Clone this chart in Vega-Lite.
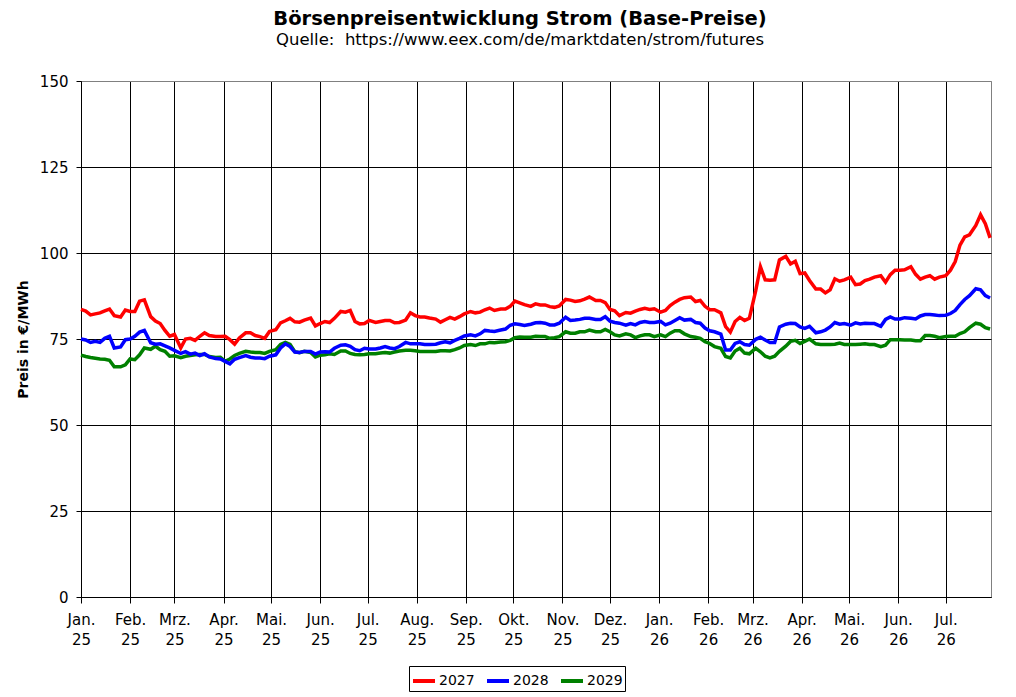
{
  "$schema": "https://vega.github.io/schema/vega-lite/v6.json",
  "width": 910,
  "height": 516,
  "autosize": {"type": "none"},
  "padding": {"left": 81, "top": 81, "right": 25, "bottom": 100},
  "background": "white",
  "config": {
    "font": "DejaVu Sans",
    "view": {"stroke": "#808080", "strokeWidth": 1}
  },
  "title": {
    "text": "Börsenpreisentwicklung Strom (Base-Preise)",
    "subtitle": "Quelle:\u00a0 https://www.eex.com/de/marktdaten/strom/futures",
    "fontSize": 19.5,
    "fontWeight": "bold",
    "subtitleFontSize": 16.5,
    "subtitlePadding": 2,
    "color": "black",
    "subtitleColor": "black",
    "anchor": "middle",
    "dx": -16,
    "offset": 25
  },
  "data": {
    "values": [
      {"d": "2025-01-01", "2027": 83.6, "2028": 75, "2029": 70.3},
      {"d": "2025-01-04", "2027": 83.1, "2028": 74.7, "2029": 69.9},
      {"d": "2025-01-07", "2027": 82, "2028": 74, "2029": 69.6},
      {"d": "2025-01-10", "2027": 82.3, "2028": 74.3, "2029": 69.4},
      {"d": "2025-01-13", "2027": 82.6, "2028": 74, "2029": 69.2},
      {"d": "2025-01-16", "2027": 83.2, "2028": 75.2, "2029": 69.1},
      {"d": "2025-01-19", "2027": 83.7, "2028": 75.8, "2029": 68.8},
      {"d": "2025-01-22", "2027": 81.8, "2028": 72.4, "2029": 66.9},
      {"d": "2025-01-26", "2027": 81.4, "2028": 72.7, "2029": 66.9},
      {"d": "2025-01-29", "2027": 83.4, "2028": 74.8, "2029": 67.5},
      {"d": "2025-02-01", "2027": 83, "2028": 75, "2029": 69.2},
      {"d": "2025-02-04", "2027": 83, "2028": 75.8, "2029": 69},
      {"d": "2025-02-07", "2027": 86, "2028": 77, "2029": 70.4},
      {"d": "2025-02-10", "2027": 86.4, "2028": 77.5, "2029": 72.4},
      {"d": "2025-02-14", "2027": 81.5, "2028": 73.9, "2029": 72},
      {"d": "2025-02-17", "2027": 80.2, "2028": 73.5, "2029": 72.9},
      {"d": "2025-02-20", "2027": 79.5, "2028": 73.6, "2029": 71.9},
      {"d": "2025-02-23", "2027": 77.5, "2028": 73, "2029": 71.4},
      {"d": "2025-02-26", "2027": 75.8, "2028": 72.4, "2029": 70},
      {"d": "2025-03-01", "2027": 76.3, "2028": 71.7, "2029": 70.1},
      {"d": "2025-03-05", "2027": 72.4, "2028": 70.8, "2029": 69.6},
      {"d": "2025-03-08", "2027": 75, "2028": 71.3, "2029": 70},
      {"d": "2025-03-11", "2027": 75.2, "2028": 70.6, "2029": 70.2},
      {"d": "2025-03-14", "2027": 74.6, "2028": 70.9, "2029": 70.4},
      {"d": "2025-03-17", "2027": 75.8, "2028": 70.2, "2029": 70.5},
      {"d": "2025-03-20", "2027": 76.8, "2028": 70.7, "2029": 70.5},
      {"d": "2025-03-23", "2027": 76, "2028": 69.8, "2029": 69.9},
      {"d": "2025-03-27", "2027": 75.7, "2028": 69.3, "2029": 69.6},
      {"d": "2025-03-30", "2027": 75.7, "2028": 69.2, "2029": 69.7},
      {"d": "2025-04-02", "2027": 75.8, "2028": 68.5, "2029": 68.5},
      {"d": "2025-04-05", "2027": 74.8, "2028": 67.8, "2029": 69.2},
      {"d": "2025-04-08", "2027": 73.5, "2028": 69.1, "2029": 70.2},
      {"d": "2025-04-11", "2027": 75.3, "2028": 69.6, "2029": 70.8},
      {"d": "2025-04-15", "2027": 76.8, "2028": 70.2, "2029": 71.4},
      {"d": "2025-04-18", "2027": 76.8, "2028": 69.7, "2029": 71.2},
      {"d": "2025-04-21", "2027": 76, "2028": 69.5, "2029": 71.1},
      {"d": "2025-04-24", "2027": 75.7, "2028": 69.5, "2029": 71.1},
      {"d": "2025-04-27", "2027": 75.2, "2028": 69.3, "2029": 70.8},
      {"d": "2025-04-30", "2027": 77.2, "2028": 70, "2029": 71.4},
      {"d": "2025-05-04", "2027": 77.7, "2028": 70.4, "2029": 71.9},
      {"d": "2025-05-07", "2027": 79.7, "2028": 72.4, "2029": 73.4},
      {"d": "2025-05-10", "2027": 80.3, "2028": 73.6, "2029": 74},
      {"d": "2025-05-13", "2027": 81, "2028": 72.8, "2029": 73.4},
      {"d": "2025-05-16", "2027": 80, "2028": 71.2, "2029": 71.3},
      {"d": "2025-05-19", "2027": 79.9, "2028": 71.1, "2029": 71},
      {"d": "2025-05-22", "2027": 80.5, "2028": 71.4, "2029": 71.4},
      {"d": "2025-05-26", "2027": 81.1, "2028": 71.4, "2029": 71.1},
      {"d": "2025-05-29", "2027": 78.8, "2028": 70.6, "2029": 69.8},
      {"d": "2025-06-01", "2027": 79.5, "2028": 71.2, "2029": 70.3},
      {"d": "2025-06-04", "2027": 80.1, "2028": 71.3, "2029": 70.4},
      {"d": "2025-06-07", "2027": 79.8, "2028": 71.2, "2029": 70.7},
      {"d": "2025-06-10", "2027": 81, "2028": 72.3, "2029": 70.5},
      {"d": "2025-06-14", "2027": 83, "2028": 73.2, "2029": 71.5},
      {"d": "2025-06-17", "2027": 82.8, "2028": 73.3, "2029": 71.5},
      {"d": "2025-06-20", "2027": 83.3, "2028": 72.9, "2029": 70.8},
      {"d": "2025-06-23", "2027": 80.1, "2028": 71.9, "2029": 70.5},
      {"d": "2025-06-26", "2027": 79.4, "2028": 71.6, "2029": 70.4},
      {"d": "2025-06-29", "2027": 79.5, "2028": 72.3, "2029": 70.5},
      {"d": "2025-07-02", "2027": 80.4, "2028": 72.1, "2029": 70.7},
      {"d": "2025-07-06", "2027": 79.8, "2028": 72.1, "2029": 70.7},
      {"d": "2025-07-09", "2027": 80.1, "2028": 72.4, "2029": 70.9},
      {"d": "2025-07-12", "2027": 80.4, "2028": 72.8, "2029": 71.1},
      {"d": "2025-07-15", "2027": 80.4, "2028": 72.4, "2029": 70.9},
      {"d": "2025-07-18", "2027": 79.7, "2028": 72.2, "2029": 71.2},
      {"d": "2025-07-21", "2027": 79.8, "2028": 72.8, "2029": 71.5},
      {"d": "2025-07-25", "2027": 80.5, "2028": 74, "2029": 71.7},
      {"d": "2025-07-28", "2027": 82.6, "2028": 73.6, "2029": 71.7},
      {"d": "2025-07-31", "2027": 81.8, "2028": 73.6, "2029": 71.6},
      {"d": "2025-08-03", "2027": 81.4, "2028": 73.6, "2029": 71.4},
      {"d": "2025-08-06", "2027": 81.4, "2028": 73.4, "2029": 71.4},
      {"d": "2025-08-09", "2027": 81.1, "2028": 73.4, "2029": 71.4},
      {"d": "2025-08-13", "2027": 80.8, "2028": 73.5, "2029": 71.4},
      {"d": "2025-08-16", "2027": 79.9, "2028": 73.9, "2029": 71.6},
      {"d": "2025-08-19", "2027": 80.6, "2028": 74.2, "2029": 71.6},
      {"d": "2025-08-22", "2027": 81.3, "2028": 73.9, "2029": 71.5},
      {"d": "2025-08-25", "2027": 80.8, "2028": 74.6, "2029": 71.9},
      {"d": "2025-08-28", "2027": 81.5, "2028": 75.2, "2029": 72.4},
      {"d": "2025-08-31", "2027": 82.3, "2028": 75.9, "2029": 73.1},
      {"d": "2025-09-04", "2027": 83, "2028": 76.2, "2029": 73.4},
      {"d": "2025-09-07", "2027": 82.6, "2028": 75.9, "2029": 73.1},
      {"d": "2025-09-10", "2027": 82.8, "2028": 76.5, "2029": 73.6},
      {"d": "2025-09-13", "2027": 83.5, "2028": 77.5, "2029": 73.6},
      {"d": "2025-09-16", "2027": 84, "2028": 77.3, "2029": 74},
      {"d": "2025-09-19", "2027": 83.3, "2028": 77.2, "2029": 73.9},
      {"d": "2025-09-23", "2027": 83.7, "2028": 77.6, "2029": 74.1},
      {"d": "2025-09-26", "2027": 83.7, "2028": 77.9, "2029": 74.2},
      {"d": "2025-09-29", "2027": 84.5, "2028": 79, "2029": 74.6},
      {"d": "2025-10-02", "2027": 86, "2028": 79.4, "2029": 75.4},
      {"d": "2025-10-05", "2027": 85.5, "2028": 79.2, "2029": 75.6},
      {"d": "2025-10-08", "2027": 85, "2028": 78.9, "2029": 75.5},
      {"d": "2025-10-12", "2027": 84.5, "2028": 79.3, "2029": 75.5},
      {"d": "2025-10-15", "2027": 85.2, "2028": 79.7, "2029": 75.8},
      {"d": "2025-10-18", "2027": 84.9, "2028": 79.8, "2029": 75.7},
      {"d": "2025-10-21", "2027": 84.9, "2028": 79.6, "2029": 75.7},
      {"d": "2025-10-24", "2027": 84.4, "2028": 79.1, "2029": 75.2},
      {"d": "2025-10-27", "2027": 84.2, "2028": 79.1, "2029": 75.4},
      {"d": "2025-10-30", "2027": 84.6, "2028": 79.6, "2029": 75.7},
      {"d": "2025-11-03", "2027": 86.5, "2028": 81.3, "2029": 77.1},
      {"d": "2025-11-06", "2027": 86.3, "2028": 80.4, "2029": 76.7},
      {"d": "2025-11-09", "2027": 85.9, "2028": 80.5, "2029": 76.7},
      {"d": "2025-11-12", "2027": 86.1, "2028": 80.7, "2029": 77.1},
      {"d": "2025-11-15", "2027": 86.6, "2028": 81, "2029": 77.1},
      {"d": "2025-11-18", "2027": 87.2, "2028": 81, "2029": 77.6},
      {"d": "2025-11-22", "2027": 86.2, "2028": 80.7, "2029": 77.1},
      {"d": "2025-11-25", "2027": 86.2, "2028": 80.7, "2029": 77.1},
      {"d": "2025-11-28", "2027": 85.6, "2028": 81.5, "2029": 77.8},
      {"d": "2025-12-01", "2027": 83.6, "2028": 80.2, "2029": 77.1},
      {"d": "2025-12-04", "2027": 83.2, "2028": 79.8, "2029": 76.2},
      {"d": "2025-12-07", "2027": 81.8, "2028": 79.6, "2029": 75.9},
      {"d": "2025-12-11", "2027": 82.7, "2028": 79, "2029": 76.5},
      {"d": "2025-12-14", "2027": 82.5, "2028": 79.5, "2029": 76.2},
      {"d": "2025-12-17", "2027": 83.1, "2028": 79.1, "2029": 75.4},
      {"d": "2025-12-20", "2027": 83.6, "2028": 79.8, "2029": 75.9},
      {"d": "2025-12-23", "2027": 83.9, "2028": 80.1, "2029": 76.2},
      {"d": "2025-12-26", "2027": 83.6, "2028": 79.8, "2029": 76.2},
      {"d": "2025-12-29", "2027": 83.8, "2028": 79.8, "2029": 75.7},
      {"d": "2026-01-02", "2027": 82.8, "2028": 80.1, "2029": 76.2},
      {"d": "2026-01-05", "2027": 83.3, "2028": 79.1, "2029": 75.7},
      {"d": "2026-01-08", "2027": 84.7, "2028": 79.6, "2029": 76.7},
      {"d": "2026-01-11", "2027": 85.7, "2028": 80.4, "2029": 77.4},
      {"d": "2026-01-14", "2027": 86.5, "2028": 81.2, "2029": 77.4},
      {"d": "2026-01-17", "2027": 87, "2028": 80.5, "2029": 76.5},
      {"d": "2026-01-21", "2027": 87.2, "2028": 80.7, "2029": 75.7},
      {"d": "2026-01-24", "2027": 85.9, "2028": 79.8, "2029": 75.5},
      {"d": "2026-01-27", "2027": 86.2, "2028": 79.6, "2029": 75.2},
      {"d": "2026-01-30", "2027": 84.5, "2028": 78.2, "2029": 74.2},
      {"d": "2026-02-02", "2027": 83.5, "2028": 77.4, "2029": 73.7},
      {"d": "2026-02-05", "2027": 83.5, "2028": 77.1, "2029": 72.8},
      {"d": "2026-02-09", "2027": 82.6, "2028": 76.4, "2029": 72.3},
      {"d": "2026-02-12", "2027": 78.6, "2028": 71.8, "2029": 69.9},
      {"d": "2026-02-15", "2027": 77, "2028": 71.8, "2029": 69.5},
      {"d": "2026-02-18", "2027": 80.1, "2028": 73.7, "2029": 71.5},
      {"d": "2026-02-21", "2027": 81.3, "2028": 74.2, "2029": 72.3},
      {"d": "2026-02-24", "2027": 80.4, "2028": 73.4, "2029": 70.9},
      {"d": "2026-02-27", "2027": 81, "2028": 73.2, "2029": 70.7},
      {"d": "2026-03-03", "2027": 89, "2028": 74.9, "2029": 72.3},
      {"d": "2026-03-06", "2027": 96, "2028": 75.5, "2029": 71.3},
      {"d": "2026-03-09", "2027": 92.2, "2028": 74.7, "2029": 70},
      {"d": "2026-03-12", "2027": 92.1, "2028": 74, "2029": 69.5},
      {"d": "2026-03-15", "2027": 92.2, "2028": 74, "2029": 70},
      {"d": "2026-03-18", "2027": 98, "2028": 78.5, "2029": 71.4},
      {"d": "2026-03-22", "2027": 99, "2028": 79.3, "2029": 72.9},
      {"d": "2026-03-25", "2027": 96.8, "2028": 79.6, "2029": 74.3},
      {"d": "2026-03-28", "2027": 97.6, "2028": 79.5, "2029": 74.6},
      {"d": "2026-03-31", "2027": 94, "2028": 78.5, "2029": 73.7},
      {"d": "2026-04-03", "2027": 94.2, "2028": 78.1, "2029": 74.3},
      {"d": "2026-04-06", "2027": 92, "2028": 78.7, "2029": 75},
      {"d": "2026-04-10", "2027": 89.5, "2028": 76.8, "2029": 73.6},
      {"d": "2026-04-13", "2027": 89.5, "2028": 77.1, "2029": 73.4},
      {"d": "2026-04-16", "2027": 88.4, "2028": 77.6, "2029": 73.4},
      {"d": "2026-04-19", "2027": 89.3, "2028": 78.5, "2029": 73.4},
      {"d": "2026-04-22", "2027": 92.5, "2028": 79.8, "2029": 73.5},
      {"d": "2026-04-25", "2027": 91.8, "2028": 79.3, "2029": 73.8},
      {"d": "2026-04-28", "2027": 92.2, "2028": 79.5, "2029": 73.4},
      {"d": "2026-05-02", "2027": 93, "2028": 79, "2029": 73.4},
      {"d": "2026-05-05", "2027": 90.8, "2028": 79.7, "2029": 73.4},
      {"d": "2026-05-08", "2027": 91, "2028": 79.4, "2029": 73.5},
      {"d": "2026-05-11", "2027": 92, "2028": 79.6, "2029": 73.6},
      {"d": "2026-05-14", "2027": 92.4, "2028": 79.5, "2029": 73.4},
      {"d": "2026-05-17", "2027": 93, "2028": 79.5, "2029": 73.4},
      {"d": "2026-05-21", "2027": 93.4, "2028": 78.7, "2029": 72.8},
      {"d": "2026-05-24", "2027": 91.5, "2028": 80.7, "2029": 73.2},
      {"d": "2026-05-27", "2027": 93.7, "2028": 81.4, "2029": 74.8},
      {"d": "2026-05-30", "2027": 95, "2028": 80.8, "2029": 74.8},
      {"d": "2026-06-02", "2027": 95, "2028": 80.8, "2029": 74.8},
      {"d": "2026-06-05", "2027": 95.1, "2028": 81.2, "2029": 74.7},
      {"d": "2026-06-09", "2027": 96, "2028": 81, "2029": 74.7},
      {"d": "2026-06-12", "2027": 93.8, "2028": 80.8, "2029": 74.5},
      {"d": "2026-06-15", "2027": 92.4, "2028": 81.7, "2029": 74.5},
      {"d": "2026-06-18", "2027": 93, "2028": 82.1, "2029": 76},
      {"d": "2026-06-21", "2027": 93.4, "2028": 82.1, "2029": 76},
      {"d": "2026-06-24", "2027": 92.4, "2028": 82, "2029": 75.8},
      {"d": "2026-06-27", "2027": 93, "2028": 81.8, "2029": 75.4},
      {"d": "2026-07-01", "2027": 93.4, "2028": 81.9, "2029": 75.7},
      {"d": "2026-07-04", "2027": 95, "2028": 82.4, "2029": 75.8},
      {"d": "2026-07-07", "2027": 97.5, "2028": 83.3, "2029": 75.8},
      {"d": "2026-07-10", "2027": 102.3, "2028": 85, "2029": 76.6},
      {"d": "2026-07-13", "2027": 104.7, "2028": 86.5, "2029": 77.1},
      {"d": "2026-07-16", "2027": 105.3, "2028": 87.6, "2029": 78.3},
      {"d": "2026-07-20", "2027": 108, "2028": 89.6, "2029": 79.6},
      {"d": "2026-07-23", "2027": 111.1, "2028": 89.3, "2029": 79.3},
      {"d": "2026-07-26", "2027": 108.5, "2028": 87.6, "2029": 78.3},
      {"d": "2026-07-29", "2027": 104.4, "2028": 86.9, "2029": 77.9}
    ]
  },
  "transform": [
    {"fold": ["2029", "2028", "2027"], "as": ["Jahr", "Preis"]}
  ],
  "mark": {"type": "line", "strokeWidth": 3.5, "interpolate": "linear"},
  "encoding": {
    "x": {
      "field": "d",
      "type": "temporal",
      "scale": {
        "type": "utc",
        "nice": false,
        "domain": [
          {"year": 2025, "month": 1, "date": 1, "utc": true},
          {"year": 2026, "month": 7, "date": 29, "hours": 14, "utc": true}
        ]
      },
      "axis": {
        "title": null,
        "tickCount": {"interval": "month", "step": 1},
        "labelExpr": "[['Jan.','Feb.','Mrz.','Apr.','Mai.','Jun.','Jul.','Aug.','Sep.','Okt.','Nov.','Dez.'][utcmonth(datum.value)], utcFormat(datum.value, '%y')]",
        "labelFontSize": 15,
        "labelLineHeight": 20,
        "labelColor": "black",
        "labelPadding": 9,
        "labelFlush": false,
        "labelOverlap": false,
        "tickColor": "black",
        "tickSize": 6,
        "domainColor": "black",
        "grid": true,
        "gridColor": "black",
        "gridWidth": 1
      }
    },
    "y": {
      "field": "Preis",
      "type": "quantitative",
      "scale": {"domain": [0, 150], "nice": false},
      "axis": {
        "title": "Preis in €/MWh",
        "titleFontSize": 14,
        "titleFontWeight": "bold",
        "titleColor": "black",
        "titlePadding": 9,
        "values": [0, 25, 50, 75, 100, 125, 150],
        "labelFontSize": 15,
        "labelColor": "black",
        "labelPadding": 8,
        "tickSize": 5,
        "tickColor": "black",
        "domainColor": "black",
        "grid": true,
        "gridWidth": 1,
        "gridColor": {"condition": {"test": "datum.value == 150", "value": "#808080"}, "value": "black"}
      }
    },
    "color": {
      "field": "Jahr",
      "type": "nominal",
      "scale": {"domain": ["2027", "2028", "2029"], "range": ["#ff0000", "#0000ff", "#008000"]},
      "legend": {
        "title": null,
        "orient": "none",
        "legendX": 328,
        "legendY": 585,
        "direction": "horizontal",
        "symbolType": "stroke",
        "symbolStrokeWidth": 4,
        "symbolSize": 484,
        "labelFontSize": 14,
        "labelColor": "black",
        "labelOffset": 2,
        "columnPadding": 4,
        "padding": 2,
        "strokeColor": "black"
      }
    }
  }
}
